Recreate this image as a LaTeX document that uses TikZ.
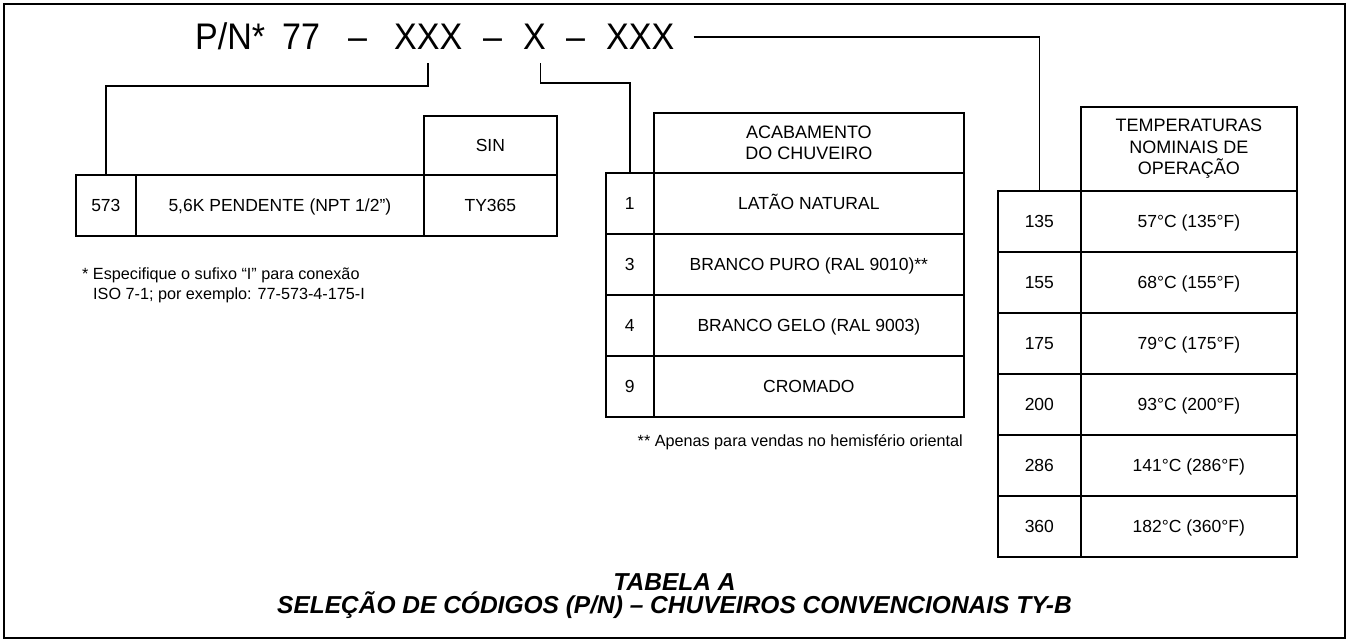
\documentclass[tikz,border=0pt]{standalone}
\usepackage{fontspec}
\setmainfont{Liberation Sans}
\begin{document}
\begin{tikzpicture}[x=1pt,y=-1pt,
  boxbase/.style={draw,line width=1.7pt,inner sep=0pt,anchor=north west},
  cell/.style={boxbase,text height=12.6pt,text depth=0pt,font=\fontsize{17.5}{21.5}\selectfont},
  hdr/.style={boxbase,align=center,font=\fontsize{18}{21.5}\selectfont},
  conn/.style={line width=1.7pt},
  ttl/.style={inner sep=0pt,anchor=base west,font=\fontsize{37}{40}\selectfont},
  note/.style={inner sep=0pt,anchor=west,font=\fontsize{16.2}{19}\selectfont}]
\useasboundingbox (0,0) rectangle (1349,642);
\draw[line width=2.6pt] (4,4) rectangle (1345,638);
% title pieces
\node[ttl] (pn) at (195,50) {\scalebox{0.92}[1]{P/N*}};
\node[ttl] (n77) at (282,50) {\scalebox{0.92}[1]{77}};
\node[ttl] (d1) at (348,50) {\scalebox{0.92}[1]{–}};
\node[ttl] (xa) at (394,50) {\scalebox{0.92}[1]{XXX}};
\node[ttl] (d2) at (483,50) {\scalebox{0.92}[1]{–}};
\node[ttl] (xb) at (523,50) {\scalebox{0.92}[1]{X}};
\node[ttl] (d3) at (566,50) {\scalebox{0.92}[1]{–}};
\node[ttl] (xc) at (606,50) {\scalebox{0.92}[1]{XXX}};
% table 1
\node[cell,minimum width=133pt,minimum height=59pt] (sin) at (423,115) {SIN};
\node[cell,minimum width=60pt,minimum height=61pt] (c573) at (75,174) {573};
\node[cell,minimum width=288pt,minimum height=61pt] (cpend) at (135,174) {5,6K PENDENTE (NPT 1/2”)};
\node[cell,minimum width=133pt,minimum height=61pt] (cty) at (423,174) {TY365};
\node[note] (fn1a) at (82,275) {* Especifique o sufixo “I” para conexão};
\node[note] (fn1b) at (93,295) {ISO 7-1; por exemplo: 77-573-4-175-I};
% table 2
\node[hdr,minimum width=310pt,minimum height=60pt] (h2) at (653,112) {ACABAMENTO\\DO CHUVEIRO};
\foreach \k/\a/\b in {1/1/LATÃO NATURAL,2/3/BRANCO PURO (RAL 9010)**,3/4/BRANCO GELO (RAL 9003),4/9/CROMADO}{
  \node[cell,minimum width=48pt,minimum height=61pt] (ta\k) at (605,{172+61*(\k-1)}) {\a};
  \node[cell,minimum width=310pt,minimum height=61pt] (tb\k) at (653,{172+61*(\k-1)}) {\b};
}
\node[note,anchor=east] (fn2) at (963,442) {** Apenas para vendas no hemisfério oriental};
% table 3
\node[hdr,minimum width=216pt,minimum height=84pt] (h3) at (1080,106) {TEMPERATURAS\\NOMINAIS DE\\OPERAÇÃO};
\foreach \k/\a/\b in {1/135/57°C (135°F),2/155/68°C (155°F),3/175/79°C (175°F),4/200/93°C (200°F),5/286/141°C (286°F),6/360/182°C (360°F)}{
  \node[cell,minimum width=83pt,minimum height=61pt] (ua\k) at (997,{190+61*(\k-1)}) {\a};
  \node[cell,minimum width=216pt,minimum height=61pt] (ub\k) at (1080,{190+61*(\k-1)}) {\b};
}
% connectors
\draw[conn] ([yshift=-13pt]xa.south) -- ++(0,23) -| (c573.north);
\draw[conn] ([xshift=6pt,yshift=-13pt]xb.south) -- ++(0,20) -| (ta1.north);
\draw[conn] ([xshift=19pt]xc.east) -| (ua1.north);
% caption
\node[align=center,inner sep=0pt,font=\fontsize{24.5}{23.5}\selectfont\bfseries\itshape] (cap) at (674.5,596) {TABELA A\\SELEÇÃO DE CÓDIGOS (P/N) – CHUVEIROS CONVENCIONAIS TY-B};
\end{tikzpicture}
\end{document}
